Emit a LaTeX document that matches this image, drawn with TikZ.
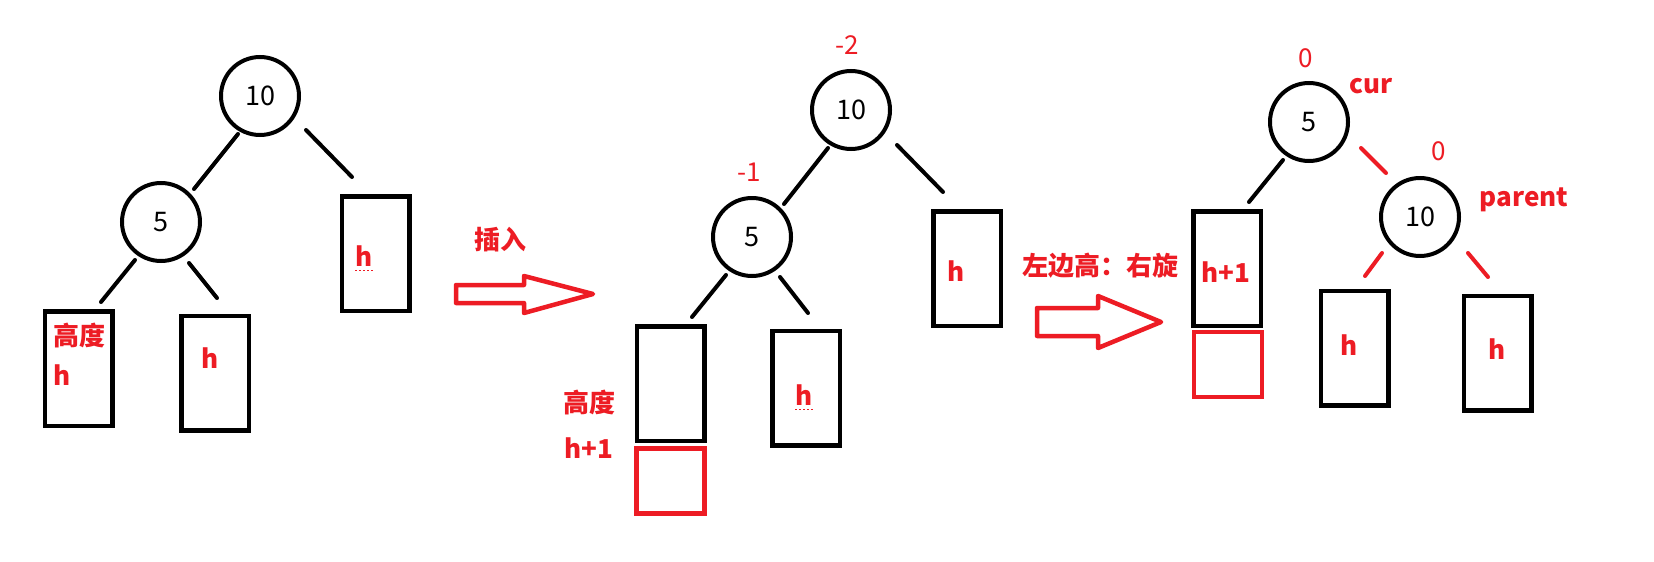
\documentclass[tikz,border=0pt]{standalone}
\usepackage{fontspec}
\setmainfont{Noto Sans CJK SC}
\usetikzlibrary{calc}
\definecolor{pred}{RGB}{237,28,36}
\tikzset{
  circ/.style={circle, draw=black, line width=4pt, minimum size=78pt, inner sep=0pt, font=\fontsize{27}{27}\selectfont},
  blackbox/.style={rectangle, draw=black, line width=4.5pt, minimum width=67.5pt, minimum height=114.5pt, inner sep=0pt},
  redbox/.style={rectangle, draw=pred, line width=4.5pt, minimum width=68pt, minimum height=65pt, inner sep=0pt},
  lbl/.style={text=pred, font=\bfseries\fontsize{26}{26}\selectfont, inner sep=0pt},
  bal/.style={text=pred, font=\fontsize{26}{26}\selectfont, inner sep=0pt},
  edge/.style={draw=black, line width=4pt, line cap=round},
  redge/.style={draw=pred, line width=4pt, line cap=round},
  blockarrow/.style={draw=pred, line width=4.5pt, line join=round, fill=white},
  squiggle/.style={draw=pred, line width=1.5pt, dash pattern=on 2pt off 2pt}
}
\begin{document}
\begin{tikzpicture}[x=1pt, y=-1pt]
\useasboundingbox (0,0) rectangle (1654,562);
\fill[white] (0,0) rectangle (1654,562);

% ---------- panel 1 ----------
\node[circ] (a10) at (260,96) {10};
\node[circ] (a5) at (161,222) {5};
\node[blackbox] (aL) at (78.5,368.5) {};
\node[blackbox] (aM) at (215,373) {};
\node[blackbox] (aR) at (375.5,253.5) {};
\node[lbl, anchor=west] (aLt1) at (53,335) {高度};
\node[lbl, anchor=west] (aLt2) at (53,375) {h};
\node[lbl] (aMt) at (210,358) {h};
\node[lbl] (aRt) at (364,256) {h};
\draw[squiggle] ([yshift=-4]aRt.base west) -- ([yshift=-4]aRt.base east);
\coordinate (a1s) at (238,134); \coordinate (a1e) at (194,189);
\coordinate (a2s) at (306,130); \coordinate (a2e) at (352,177);
\coordinate (a3s) at (135,260); \coordinate (a3e) at (101,302);
\coordinate (a4s) at (189,263); \coordinate (a4e) at (217,298);
\draw[edge] (a1s) -- (a1e);
\draw[edge] (a2s) -- (a2e);
\draw[edge] (a3s) -- (a3e);
\draw[edge] (a4s) -- (a4e);

% ---------- arrow 1 ----------
\draw[blockarrow] (456,285) -- (524,285) -- (524,276) -- (593,294) -- (524,313) -- (524,303) -- (456,303) -- cycle;
\node[lbl] (ins) at (500,240) {插入};

% ---------- panel 2 ----------
\node[circ] (b10) at (851,110) {10};
\node[circ] (b5) at (752,237) {5};
\node[bal] (bm2) at (847,45) {-2};
\node[bal] (bm1) at (749,172) {-1};
\node[blackbox] (bL) at (670.5,383.5) {};
\node[redbox] (bLr) at (670.5,481) {};
\node[blackbox] (bM) at (806,388) {};
\node[blackbox] (bR) at (967,268.5) {};
\node[lbl, anchor=west] (bLt1) at (563,402) {高度};
\node[lbl, anchor=west] (bLt2) at (564,448) {h+1};
\node[lbl] (bMt) at (804,395) {h};
\node[lbl] (bRt) at (956,271) {h};
\draw[squiggle] ([yshift=-4]bMt.base west) -- ([yshift=-4]bMt.base east);
\coordinate (b1s) at (828,148); \coordinate (b1e) at (784,204);
\coordinate (b2s) at (897,145); \coordinate (b2e) at (943,192);
\coordinate (b3s) at (726,275); \coordinate (b3e) at (692,317);
\coordinate (b4s) at (780,277); \coordinate (b4e) at (808,313);
\draw[edge] (b1s) -- (b1e);
\draw[edge] (b2s) -- (b2e);
\draw[edge] (b3s) -- (b3e);
\draw[edge] (b4s) -- (b4e);

% ---------- arrow 2 ----------
\draw[blockarrow] (1037,308) -- (1098,308) -- (1098,296) -- (1161,322) -- (1098,348) -- (1098,336) -- (1037,336) -- cycle;
\node[lbl] (rot) at (1100,266) {左边高：右旋};

% ---------- panel 3 ----------
\node[circ] (c5) at (1309,122) {5};
\node[circ] (c10) at (1420,217) {10};
\node[bal] (c0a) at (1306,58) {0};
\node[bal] (c0b) at (1439,151) {0};
\node[lbl] (cur) at (1371,86) {cur};
\node[lbl] (par) at (1524,200) {parent};
\node[blackbox] (cL) at (1227,268.5) {};
\node[redbox] (cLr) at (1228,364.5) {};
\node[blackbox] (cM) at (1354.5,348) {};
\node[blackbox] (cR) at (1497.5,353) {};
\node[lbl] (cLt) at (1226,272) {h+1};
\node[lbl] (cMt) at (1349,345) {h};
\node[lbl] (cRt) at (1497,349) {h};
\coordinate (c1s) at (1283,160); \coordinate (c1e) at (1249,202);
\coordinate (c2s) at (1361,148); \coordinate (c2e) at (1386,173);
\coordinate (c3s) at (1382,253); \coordinate (c3e) at (1365,276);
\coordinate (c4s) at (1468,253); \coordinate (c4e) at (1488,277);
\draw[edge] (c1s) -- (c1e);
\draw[redge] (c2s) -- (c2e);
\draw[redge] (c3s) -- (c3e);
\draw[redge] (c4s) -- (c4e);
\end{tikzpicture}
\end{document}
